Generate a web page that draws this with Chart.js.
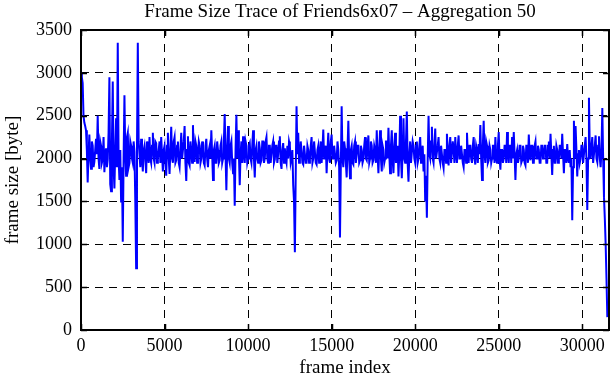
<!DOCTYPE html>
<html>
<head>
<meta charset="utf-8">
<script src="https://cdn.jsdelivr.net/npm/chart.js@4"></script>
<style>
html,body{margin:0;padding:0;background:#fff;}
#wrap{width:611px;height:380px;position:relative;}
</style>
</head>
<body>
<div id="wrap"><canvas id="c" width="611" height="380"></canvas></div>
<script>
const chartTitle = "Frame Size Trace of Friends6x07 \u2013 Aggregation 50";
const xTitle = "frame index";
const yTitle = "frame size [byte]";
const xTicks = [0, 5000, 10000, 15000, 20000, 25000, 30000];
const yTicks = [0, 500, 1000, 1500, 2000, 2500, 3000, 3500];
const frameStep = 50;
const frameSize = [
 3000,2950,2880,2500,2420,2380,2330,2100,1720,2050,2280,2000,1880,2200,2150,1900,1960,2100,2230,2050,
 2500,2000,1880,2200,2150,1950,1990,2250,1840,2050,2120,1900,1990,2300,2950,1700,1620,2200,2900,1900,
 1650,2100,2470,1900,3350,2000,1750,2100,1500,1900,1030,2000,2740,2050,1800,2250,2300,1900,1950,2200,
 2150,2000,1950,2200,2080,1500,720,2100,3350,2200,2050,1900,2230,2000,1850,2100,2150,2000,1830,2200,
 2100,1950,2250,2000,1950,2150,2300,2000,1950,2200,2180,1950,2000,2100,2200,1950,2250,2050,1850,2100,
 2150,1950,
 1800,2150,2300,2000,1820,2100,2370,2000,1950,2200,2250,1950,1980,2150,2200,1950,1900,2100,2300,2000,
 2000,2200,2380,1950,1740,2100,2260,1950,1920,2200,2100,1950,2390,2050,1960,2200,2150,1950,2050,2200,
 2150,1950,2000,2200,2100,1950,1920,2150,2230,2000,1900,2100,2150,2000,2330,2050,1750,2100,2150,1950,
 1950,2200,2100,1950,1980,2150,2200,1950,2000,2200,2520,2050,1630,2100,2380,2000,1950,2150,2200,1950,
 1830,2000,1450,2100,2510,2000,2330,2050,1690,2050,2200,1950,2260,2050,1950,2200,2150,1950,2000,2150,
 2180,2000,1950,2150,2330,2000,1780,2100,2150,2000,1950,2200,
 2120,1950,1980,2200,2200,1950,2000,2200,2250,2000,1950,2150,2150,1950,2050,2150,2200,1950,1990,2150,
 2150,1950,2050,2200,2260,1950,1880,2100,2180,1950,2120,2000,1950,2150,2000,2200,2150,1950,2000,2100,
 1690,1500,906,1800,2610,2050,2300,1950,2000,2200,2100,1950,1930,2150,2150,1950,1950,2150,2100,1950,
 2000,2150,2250,1950,2000,2200,2200,1950,1930,2100,2150,1950,2050,2200,1950,2100,2340,2000,2050,2150,
 1830,2100,2300,2000,1950,2200,2280,2000,2000,2150,2150,1950,1980,2200,2100,1900,1080,1900,2610,2000,
 1900,2200,2120,1950,1780,2100,2440,2000,
 1770,2100,2150,1950,1930,2150,2200,1950,2050,2150,2150,1950,1980,2150,2100,1950,1990,2150,2250,2000,
 1980,2150,2270,1950,2000,2200,2150,1950,1980,2150,2100,1950,2330,2050,1830,2100,2330,2000,1850,2150,
 2100,1950,2000,2200,2200,2000,2360,2050,1830,2150,2330,2000,1830,2150,2300,1950,2000,2150,1790,2050,
 2500,2000,1770,2100,2470,2000,1950,2200,2550,1950,1730,2050,2200,1950,1950,2200,2150,2000,1950,2150,
 2200,1950,2000,2150,2250,1950,2080,2150,1850,2050,1500,1800,1310,2000,2500,2050,2000,2200,2370,2000,
 1950,2150,2350,2000,2000,2150,2250,2000,
 1950,2150,2150,1950,1890,2100,2100,1950,2290,2050,1920,2150,2250,1950,1950,2200,2100,1950,2250,2050,
 1950,2150,2270,2000,2000,2150,2150,1950,1900,2100,2100,1950,2300,2050,1950,2150,2150,2000,1950,2150,
 2250,2000,1930,2150,2100,1950,2170,2050,2390,2000,1750,2150,2440,2050,1950,2200,2150,1950,1980,2150,
 2100,1950,2000,2150,2150,1950,2250,2000,1950,2150,2310,2000,1870,2100,2100,1950,2000,2150,2150,1950,
 2310,2050,1950,2150,2150,1950,2250,2000,2310,2050,1750,2050,2100,1950,2000,2150,2150,1950,1980,2150,
 2100,1950,1920,2150,2150,1950,2280,2050,
 1980,2150,2150,1950,1950,2150,2200,2000,2000,2150,2100,1950,1950,2150,2150,2000,2050,2150,2150,1950,
 1950,2150,2200,2000,2290,2050,1810,2100,2150,1950,1950,2150,2100,1950,2000,2150,2150,2000,2290,2050,
 1830,2100,2100,1950,2170,2000,1950,2100,1900,2000,1280,1900,2440,2000,2380,2100,1790,2050,2100,1950,
 2000,2150,2150,1950,1950,2150,2250,2000,1400,2000,2710,2100,2000,2150,2250,1950,1950,2150,2270,2000,
 1960,2150,2260,2000,1900,2100,2590,2000,1550,1300,1000,600,150
];
const xMax = 31600;
const yMax = 3500;

const points = frameSize.map((v, i) => ({x: i * frameStep, y: v}));
const FONT = "'Liberation Serif', 'Times New Roman', serif";

const decor = {
  id: 'decor',
  afterDatasetsDraw(chart) {
    const {ctx, chartArea: a, scales: {x, y}} = chart;
    ctx.save();
    ctx.strokeStyle = '#000';
    ctx.lineWidth = 1.5;
    ctx.setLineDash([]);
    ctx.beginPath();
    xTicks.forEach(t => {
      const px = Math.round(x.getPixelForValue(t)) + 0.5;
      ctx.moveTo(px, a.bottom); ctx.lineTo(px, a.bottom - 6);
      ctx.moveTo(px, a.top); ctx.lineTo(px, a.top + 6);
    });
    yTicks.forEach(t => {
      const py = Math.round(y.getPixelForValue(t)) + 0.5;
      ctx.moveTo(a.left, py); ctx.lineTo(a.left + 6, py);
      ctx.moveTo(a.right, py); ctx.lineTo(a.right - 6, py);
    });
    ctx.stroke();
    ctx.lineWidth = 2;
    ctx.strokeRect(a.left, a.top, a.right - a.left, a.bottom - a.top);
    ctx.fillStyle = '#000';
    ctx.textAlign = 'center';
    ctx.textBaseline = 'middle';
    ctx.font = "19px " + FONT;
    ctx.fillText(chartTitle, (a.left + a.right) / 2 - 5, 12);
    ctx.fillText(xTitle, (a.left + a.right) / 2, 368);
    ctx.translate(13, (a.top + a.bottom) / 2);
    ctx.rotate(-Math.PI / 2);
    ctx.fillText(yTitle, 0, 0);
    ctx.restore();
  }
};

new Chart(document.getElementById('c'), {
  type: 'line',
  data: {
    datasets: [{
      data: points,
      borderColor: '#0000ff',
      borderWidth: 2,
      pointRadius: 0,
      tension: 0,
      fill: false
    }]
  },
  options: {
    responsive: false,
    animation: false,
    devicePixelRatio: 1,
    layout: {padding: {top: 30, right: 2, left: 0, bottom: 0}},
    plugins: {legend: {display: false}, title: {display: false}, tooltip: {enabled: false}},
    scales: {
      x: {
        type: 'linear', min: 0, max: xMax,
        afterBuildTicks: s => { s.ticks = xTicks.map(v => ({value: v})); },
        afterFit: s => { s.height = 50; },
        ticks: {color: '#000', font: {family: FONT, size: 18}, padding: 5, maxRotation: 0, autoSkip: false,
                callback: v => String(v)},
        grid: {color: '#000', lineWidth: 1, drawTicks: false},
        border: {display: false, dash: [8, 6]}
      },
      y: {
        type: 'linear', min: 0, max: yMax,
        afterBuildTicks: s => { s.ticks = yTicks.map(v => ({value: v})); },
        afterFit: s => { s.width = 81; },
        ticks: {color: '#000', font: {family: FONT, size: 18}, padding: 9, callback: v => String(v)},
        grid: {color: '#000', lineWidth: 1, drawTicks: false},
        border: {display: false, dash: [8, 6]}
      }
    }
  },
  plugins: [decor]
});
</script>
</body>
</html>
